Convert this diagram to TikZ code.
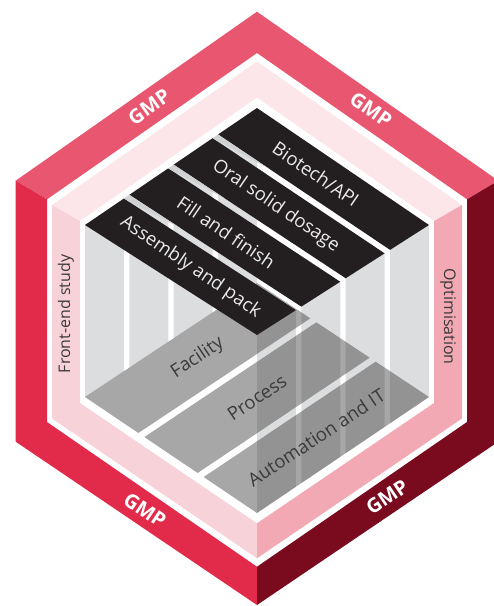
\documentclass[tikz,border=0pt]{standalone}
\usepackage{fontspec}
\setmainfont{Open Sans}
\usetikzlibrary{calc}
\definecolor{gmpTop}{HTML}{E8566F}
\definecolor{gmpLeft}{HTML}{E22A4A}
\definecolor{gmpRight}{HTML}{7A0A1E}
\definecolor{pkTop}{HTML}{FCE6EA}
\definecolor{pkLeft}{HTML}{F8D2D9}
\definecolor{pkRight}{HTML}{F2A9B4}
\definecolor{stripBlack}{HTML}{231F20}
\definecolor{colGrey}{HTML}{DCDDDE}
\definecolor{wedgeGrey}{HTML}{D0D1D2}
\definecolor{labDark}{HTML}{3A3A3A}
\begin{document}
\begin{tikzpicture}[x=1pt,y=-1pt,
  column/.style={fill=colGrey},
  greystrip/.style={fill=black!80,fill opacity=0.43},
  blackstrip/.style={fill=stripBlack},
  wedge/.style={fill=wedgeGrey},
  gmplabel/.style={text=white,inner sep=0pt,font=\bfseries\fontsize{20}{22}\selectfont},
  bandlabel/.style={text=labDark,inner sep=0pt,font=\fontsize{16}{18}\selectfont},
  toplabel/.style={text=white!92!black,inner sep=0pt,font=\fontsize{18.5}{20}\selectfont},
  floorlabel/.style={text=labDark,inner sep=0pt,font=\fontsize{18.5}{20}\selectfont}]
\useasboundingbox (0,0) rectangle (494,606);
% GMP outer band
\coordinate (Ot) at (257,11.7);  \coordinate (OUL) at (15.7,180.7); \coordinate (OLL) at (15.7,441.7);
\coordinate (Ob) at (257,605);   \coordinate (OLR) at (498.3,441.7); \coordinate (OUR) at (498.3,180.7);
\coordinate (It) at (257,53);    \coordinate (IUL) at (47,199.3);   \coordinate (ILL) at (47,422);
\coordinate (Ib) at (257,566.7); \coordinate (ILR) at (467,422);    \coordinate (IUR) at (467,199.3);
% pink band
\coordinate (Pt) at (257,61.5);  \coordinate (PUL) at (52,205);     \coordinate (PLL) at (52,418.5);
\coordinate (Pb) at (257,558.3); \coordinate (PLR) at (462,418.5);  \coordinate (PUR) at (462,205);
\coordinate (Qt) at (257,97.5);  \coordinate (QUL) at (80,221);     \coordinate (QLL) at (80,403);
\coordinate (Qb) at (257,523.3); \coordinate (QLR) at (434,403);    \coordinate (QUR) at (434,221);
% interior
\coordinate (T) at (257,108); \coordinate (L) at (85,225); \coordinate (R) at (429,225); \coordinate (B) at (257,335);
\coordinate (Tg) at (257,283); \coordinate (Lg) at (85,397); \coordinate (Rg) at (429,397); \coordinate (Bg) at (257,513);

\fill[gmpTop]   (OUL) -- (Ot) -- (OUR) -- (IUR) -- (It) -- (IUL) -- cycle;
\fill[gmpLeft]  (OUL) -- (OLL) -- (Ob) -- (Ib) -- (ILL) -- (IUL) -- cycle;
\fill[gmpRight] (OUR) -- (OLR) -- (Ob) -- (Ib) -- (ILR) -- (IUR) -- cycle;

\fill[pkTop]   (PUL) -- (Pt) -- (PUR) -- (QUR) -- (Qt) -- (QUL) -- cycle;
\fill[pkLeft]  (PUL) -- (PLL) -- (Pb) -- (Qb) -- (QLL) -- (QUL) -- cycle;
\fill[pkRight] (PUR) -- (PLR) -- (Pb) -- (Qb) -- (QLR) -- (QUR) -- cycle;

% columns
\foreach \ua/\ub in {0/0.2262, 0.2579/0.4841, 0.5159/0.7421, 0.7738/1}{
  \fill[column] ($(L)!\ua!(T)$) -- ($(L)!\ub!(T)$) -- ($(Lg)!\ub!(Tg)$) -- ($(Lg)!\ua!(Tg)$) -- cycle;
  \fill[column] ($(B)!\ua!(R)$) -- ($(B)!\ub!(R)$) -- ($(Bg)!\ub!(Rg)$) -- ($(Bg)!\ua!(Rg)$) -- cycle;
}
% floor strips
\foreach \ua/\ub in {0/0.31, 0.345/0.655, 0.69/1}{
  \fill[greystrip] ($(Lg)!\ua!(Bg)$) -- ($(Lg)!\ub!(Bg)$) -- ($(Tg)!\ub!(Rg)$) -- ($(Tg)!\ua!(Rg)$) -- cycle;
}
% top strips
\foreach \ua/\ub in {0/0.2262, 0.2579/0.4841, 0.5159/0.7421, 0.7738/1}{
  \fill[blackstrip] ($(L)!\ua!(T)$) -- ($(L)!\ub!(T)$) -- ($(B)!\ub!(R)$) -- ($(B)!\ua!(R)$) -- cycle;
}
% side wedges in the gaps
\foreach \lb/\ua in {0.2262/0.2579, 0.4841/0.5159, 0.7421/0.7738}{
  \coordinate (wa) at ($(L)!\ua!(T)$);
  \coordinate (wb) at ($(B)!\ua!(R)$);
  \fill[wedge] (wa) -- ($(L)!\lb!(T)$) -- ($(wa)!0.3!(wb)$) -- cycle;
}

% labels
\node[gmplabel, rotate=35]    (g1) at (149,107) {GMP};
\node[gmplabel, rotate=-35]   (g2) at (371,110) {GMP};
\node[gmplabel, rotate=-34.1] (g3) at (145,510) {GMP};
\node[gmplabel, rotate=34.1]  (g4) at (387,497) {GMP};
\node[bandlabel, rotate=90]   (fe) at (66,314) {Front-end study};
\node[bandlabel, rotate=-90]  (op) at (448,316.5) {Optimisation};
\node[toplabel, rotate=-34.2] (s1) at (190.5,267.2) {Assembly and pack};
\node[toplabel, rotate=-34.2] (s2) at (226.2,232.3) {Fill and finish};
\node[toplabel, rotate=-34.2] (s3) at (275.8,206.3) {Oral solid dosage};
\node[toplabel, rotate=-34.2] (s4) at (315.9,174.1) {Biotech/API};
\node[floorlabel, rotate=33.5] (f1) at (197.7,357.9) {Facility};
\node[floorlabel, rotate=33.5] (f2) at (257,397.5) {Process};
\node[floorlabel, rotate=33.5] (f3) at (316.3,437.2) {Automation and IT};
\end{tikzpicture}
\end{document}
